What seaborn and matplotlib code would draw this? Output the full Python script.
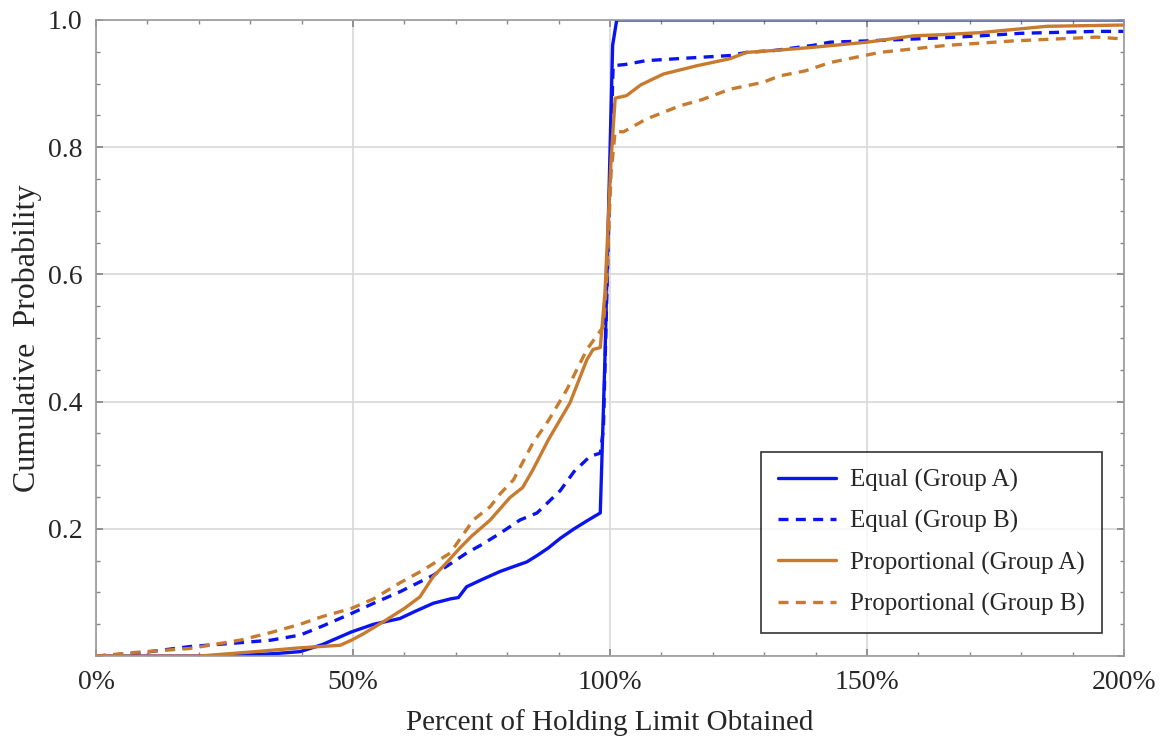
import pandas as pd
import seaborn as sns
import matplotlib.pyplot as plt
from matplotlib.ticker import MultipleLocator, FuncFormatter

# values (x in percent of holding limit)
equal_a_x = [0, 10, 20, 30, 35, 39.7, 44, 49.7, 54, 59.1, 62, 65.6, 69, 70.5, 72.1, 75, 78.6, 81, 83.8, 85.8, 88, 90.3, 93, 96, 98.1, 99.0, 100.5, 101.3, 105, 150, 200]
equal_a_y = [0, 0, 0, 0.002, 0.004, 0.007, 0.018, 0.038, 0.05, 0.059, 0.07, 0.083, 0.09, 0.092, 0.109, 0.12, 0.133, 0.14, 0.148, 0.158, 0.17, 0.185, 0.2, 0.215, 0.225, 0.466, 0.96, 1.0, 1.0, 1.0, 1.0]

equal_b_x = [0, 8.6, 18.3, 28, 34, 39.7, 44, 49.7, 54, 59.1, 65.6, 68, 72.1, 75, 78.6, 82.5, 85.8, 90.3, 93, 96.1, 98.1, 98.7, 99.8, 100.6, 103, 107, 115, 123.3, 126.6, 132, 139.5, 142.8, 150, 159, 165, 172, 180, 194.7, 200]
equal_b_y = [0, 0.005, 0.015, 0.021, 0.025, 0.033, 0.047, 0.067, 0.083, 0.101, 0.127, 0.14, 0.162, 0.175, 0.193, 0.214, 0.225, 0.26, 0.29, 0.314, 0.319, 0.356, 0.7, 0.928, 0.93, 0.936, 0.94, 0.944, 0.949, 0.952, 0.96, 0.965, 0.967, 0.97, 0.972, 0.975, 0.979, 0.982, 0.982]

prop_a_x = [0, 10, 20, 31, 39.7, 47.5, 49.7, 52, 55.9, 60, 63, 65.6, 68, 70.8, 73, 76.7, 80.5, 83, 85, 88, 92.2, 95.5, 96.7, 98.1, 99.0, 100.2, 101, 103.2, 106, 110.4, 116.9, 123.3, 126.6, 132, 139.5, 150, 159, 165, 172, 185, 200]
prop_a_y = [0, 0, 0, 0.007, 0.013, 0.017, 0.025, 0.035, 0.054, 0.075, 0.093, 0.125, 0.145, 0.17, 0.188, 0.214, 0.249, 0.265, 0.293, 0.34, 0.398, 0.466, 0.482, 0.485, 0.57, 0.78, 0.877, 0.881, 0.898, 0.915, 0.928, 0.939, 0.949, 0.952, 0.957, 0.965, 0.975, 0.977, 0.98, 0.99, 0.992]

prop_b_x = [0, 8, 18.3, 28, 34, 39.7, 44, 49.7, 54, 59.1, 63.6, 68.9, 73.4, 76.7, 78.6, 81.2, 85, 88, 91.6, 95.5, 98.7, 99.4, 100.2, 101, 102.6, 107, 113.6, 118, 123.3, 129.8, 133, 138, 142.8, 152.5, 165.5, 178.4, 194.7, 200]
prop_b_y = [0, 0.006, 0.012, 0.025, 0.037, 0.05, 0.062, 0.075, 0.09, 0.115, 0.135, 0.162, 0.214, 0.235, 0.255, 0.277, 0.335, 0.37, 0.419, 0.482, 0.518, 0.6, 0.76, 0.825, 0.824, 0.844, 0.865, 0.875, 0.891, 0.902, 0.912, 0.92, 0.933, 0.949, 0.96, 0.967, 0.973, 0.97]

labels = ["Equal (Group A)", "Equal (Group B)", "Proportional (Group A)", "Proportional (Group B)"]

frames = []
for name, xs, ys in zip(labels, [equal_a_x, equal_b_x, prop_a_x, prop_b_x],
                        [equal_a_y, equal_b_y, prop_a_y, prop_b_y]):
    frames.append(pd.DataFrame({"x": xs, "y": ys, "series": name}))
df = pd.concat(frames, ignore_index=True)

sns.set_theme(style="white")
plt.rcParams['font.family'] = ['Liberation Serif', 'DejaVu Serif']

blue = "#0a14f0"
orange = "#c87b2e"
palette = {labels[0]: blue, labels[1]: blue, labels[2]: orange, labels[3]: orange}
dashes = {labels[0]: "", labels[1]: (3, 2.2), labels[2]: "", labels[3]: (3, 2.2)}

fig = plt.figure(figsize=(11.61, 7.38), dpi=100)
ax = fig.add_axes([0.0827, 0.111, 0.8855, 0.862])

sns.lineplot(data=df, x="x", y="y", hue="series", style="series", palette=palette,
             dashes=dashes, estimator=None, sort=False, linewidth=2.4, ax=ax,
             hue_order=labels, style_order=labels)

ax.set_xlim(0, 200)
ax.set_ylim(0, 1.0)
ax.xaxis.set_major_locator(MultipleLocator(50))
ax.xaxis.set_minor_locator(MultipleLocator(10))
ax.yaxis.set_major_locator(MultipleLocator(0.2))
ax.yaxis.set_minor_locator(MultipleLocator(0.05))
ax.xaxis.set_major_formatter(FuncFormatter(lambda v, p: f"{v:.0f}%"))
ax.yaxis.set_major_formatter(FuncFormatter(lambda v, p: "" if v < 0.01 else f"{v:.1f}"))
ax.grid(True, which="major", color="#d8d8d8", linewidth=1.2)
ax.tick_params(which="both", direction="in", top=True, right=True, color="#888888",
               labelsize=20, pad=10, bottom=True, left=True)
ax.tick_params(which="major", length=5)
ax.tick_params(which="minor", length=3)
for s in ax.spines.values():
    s.set_color("#999999")
    s.set_linewidth(1.2)

ax.set_xlabel("Percent of Holding Limit Obtained", fontsize=21, labelpad=10)
ax.set_ylabel("Cumulative  Probability", fontsize=23, labelpad=4)

leg = ax.legend(loc="lower right", bbox_to_anchor=(0.9786, 0.036), fontsize=18,
                frameon=True, fancybox=False, edgecolor="black", handlelength=2.3,
                labelspacing=0.72, borderpad=0.7, handletextpad=0.55, borderaxespad=0)
leg.get_frame().set_linewidth(1.2)

plt.savefig("out.png", dpi=100)
